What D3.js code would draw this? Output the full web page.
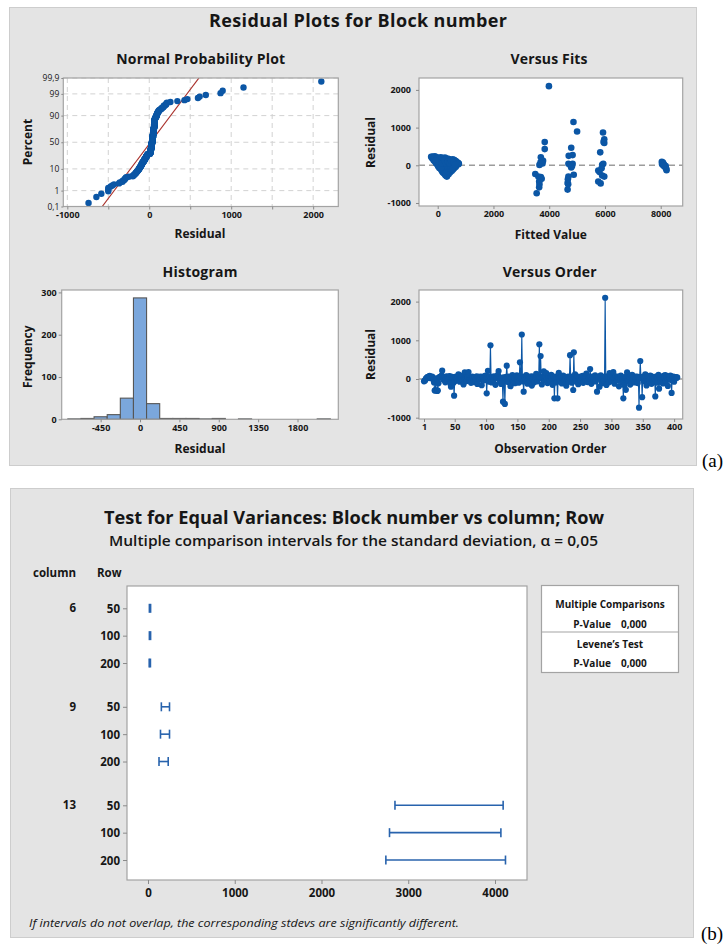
<!DOCTYPE html>
<html>
<head>
<meta charset="utf-8">
<script src="https://cdn.jsdelivr.net/npm/d3@7"></script>
<style>
  html, body { margin: 0; padding: 0; background: #ffffff; }
  svg { display: block; font-family: "Open Sans", "Noto Sans", sans-serif; }
</style>
</head>
<body>
<svg id="chart" width="728" height="946"></svg>
<script>
// ---------- Residuals for Block number, in observation order (1..405) ----------
const residuals = [
  -60,-45,-30,10,25,40,55,30,60,80,45,20,50,65,35,-20,-90,-300,-290,-40,
  15,-310,-300,-110,30,55,40,65,90,215,60,-20,35,50,-85,25,70,45,-50,10,
  60,72,-120,-200,30,55,20,-95,-430,-60,40,65,15,-30,50,120,35,-70,25,60,
  45,-15,85,-140,30,173,50,20,-55,65,40,180,55,-25,10,-100,35,60,45,-80,
  25,50,-45,15,70,-130,40,55,30,-10,65,20,-160,45,60,35,-35,50,90,25,
  -370,40,210,30,-70,55,870,20,-90,45,60,-20,35,70,-150,50,25,65,110,207,
  40,-60,15,-130,30,-100,-585,45,-40,-645,20,55,343,35,-80,60,10,50,-185,40,
  25,100,-55,65,30,-110,45,15,95,-30,50,-95,35,430,60,20,1150,40,-65,-327,
  55,30,-20,100,45,-120,65,25,50,-45,35,70,-170,15,60,40,-85,55,20,130,
  30,-60,45,65,896,50,594,25,-140,35,60,200,40,-35,55,150,20,-105,45,70,
  30,-50,60,110,15,-150,40,55,-500,25,65,-90,35,-500,50,160,20,-40,45,60,
  -115,30,90,40,-25,55,15,-175,50,35,65,-70,25,615,45,60,-95,30,-285,690,
  50,120,20,-60,40,65,-135,35,55,10,-45,60,25,80,-100,45,30,-20,50,140,
  40,-80,60,15,35,258,55,-125,20,65,45,-30,30,95,-65,50,-327,40,10,60,
  -200,25,95,35,-110,55,45,-40,20,2100,60,-155,30,65,40,-85,150,50,15,-55,
  35,60,180,25,-120,45,70,20,-30,55,40,-190,65,30,85,50,-78,15,-500,35,
  -160,45,-280,60,170,25,-50,55,40,-145,80,30,105,50,-20,45,-90,65,20,35,
  60,-105,40,-741,25,465,55,15,-470,45,65,-60,30,120,50,-165,20,70,40,-35,
  55,90,25,-125,60,35,45,-80,15,-450,65,50,-95,30,110,-250,40,60,-40,20,
  55,-115,45,90,30,100,-55,50,25,-180,65,40,15,85,-25,-360,55,35,60,-70,
  45,20,50,30,40
];

// ---------- Versus Fits: [fitted value, residual] ----------
const versusFits = [
  // low fitted values (column 6 and 9 groups)
  [-235,225],[-205,195],[-170,170],[-140,130],[-95,100],[-60,55],[-20,25],[25,-30],[60,-70],
  [105,-100],[150,-150],[185,-190],[230,-220],[270,-260],[330,-300],[300,-280],
  [-180,230],[-100,240],[-40,210],[30,200],[110,215],[180,190],[260,205],[310,180],[380,170],
  [450,150],[540,160],[600,140],[650,110],[700,80],[740,60],
  [760,40],[730,20],[700,50],[650,-40],[600,-70],[550,-110],[500,-150],[440,-190],[390,-240],
  [-150,190],[-110,170],[-60,150],[-20,120],[0,170],[30,90],[60,150],[70,40],[100,110],[110,0],
  [130,60],[140,160],[150,-60],[170,100],[190,20],[200,-120],[210,140],[230,60],[250,-40],
  [260,-160],[280,100],[290,10],[300,-90],[320,160],[330,-200],[350,50],[360,-20],[370,-130],
  [400,120],[410,-60],[420,10],[440,-150],[460,80],[480,-20],[500,40],[510,-110],[530,110],
  [550,-40],[570,20],[590,-40],[610,70],[630,-20],[660,30],[680,20],[720,40],
  [170,-20],[230,-100],[280,-200],[340,-150],[380,-80],[450,-100],[520,-100],[90,-20],[40,50],
  [-30,80],[-80,120],[10,-10],[120,-60],[160,40],[240,130],[300,40],[360,100],[420,60],
  [480,130],[560,60],[620,10],
  // column 13 groups
  [3550,-741],[3500,-230],[3610,-300],[3660,-327],[3700,-310],[3730,-360],[3640,-585],[3650,-500],
  [3640,-430],[3700,215],[3780,120],[3650,10],[3690,80],[3760,50],[3840,615],[3840,430],[3990,2100],
  [4660,-645],[4660,-470],[4680,-500],[4670,-370],[4690,-300],[4700,250],[4840,270],[4790,465],
  [4870,1150],[5000,896],[4690,40],[4780,15],[4840,40],[4790,-60],[4880,-250],[4760,0],[4820,-20],
  [5760,-430],[5845,-480],[5760,-140],[5805,-180],[5900,-270],[5975,-300],[5830,343],[5900,15],
  [5940,40],[5930,870],[5975,690],[5975,594],[5880,-80],[5950,620],
  [8040,90],[8060,60],[8080,70],[8050,30],[8100,40],[8120,10],[8150,-30],[8170,-60],[8200,-90],
  [8210,-130],[8180,-20],[8100,-10]
];

// ---------- Axis ticks ----------
const percentTicks   = [0.1, 1, 10, 50, 90, 99, 99.9];
const percentLabels  = ["0,1", "1", "10", "50", "90", "99", "99,9"];
const npResidTicks   = [-1000, -500, 0, 500, 1000, 1500, 2000];
const npResidLabels  = [-1000, 0, 1000, 2000];
const fitsTicks      = [0, 2000, 4000, 6000, 8000];
const residTicks     = [-1000, 0, 1000, 2000];
const histMidTicks   = [-450, 0, 450, 900, 1350, 1800];
const histEdges      = [-825,-675,-525,-375,-225,-75,75,225,375,525,675,825,975,1125,1275,1425,1575,1725,1875,2025,2175];
const freqTicks      = [0, 100, 200, 300];
const orderTicks     = [1, 50, 100, 150, 200, 250, 300, 350, 400];

// ---------- Test for equal variances ----------
const columnLevels = ["6", "9", "13"];
const rowLevels    = ["50", "100", "200"];
const sdLower = [[16, 16, 14], [154, 144, 127], [2847, 2784, 2742]];
const sdUpper = [[30, 30, 28], [248, 248, 233], [4094, 4068, 4121]];
const stdevTicks = [0, 1000, 2000, 3000, 4000];
const testRows = [
  ["Multiple Comparisons", ""],
  ["P-Value", "0,000"],
  ["Levene\u2019s Test", ""],
  ["P-Value", "0,000"]
];

// ---------- helpers ----------
const svg = d3.select("#chart");
const INK = "#161616";
const BLUE = "#0b56a5";
const signed = d => (d < 0 ? "-" : "") + Math.abs(d);

function txt(g, x, y, s, o = {}) {
  const t = g.append("text").attr("x", x).attr("y", y).text(s)
    .attr("font-size", o.size || 12)
    .attr("font-weight", o.weight || "bold")
    .attr("text-anchor", o.anchor || "middle")
    .attr("fill", o.fill || INK);
  if (o.italic) t.attr("font-style", "italic");
  if (o.family) t.attr("font-family", o.family);
  if (o.len) t.attr("textLength", o.len).attr("lengthAdjust", o.adjust || "spacing");
  if (o.rotate) t.attr("transform", `rotate(-90 ${x} ${y})`);
  return t;
}

function frame(b, id) {
  svg.append("rect").attr("x", b.x0).attr("y", b.y0)
    .attr("width", b.x1 - b.x0).attr("height", b.y1 - b.y0)
    .attr("fill", "#ffffff");
  svg.append("clipPath").attr("id", id).append("rect")
    .attr("x", b.x0).attr("y", b.y0).attr("width", b.x1 - b.x0).attr("height", b.y1 - b.y0);
}
function outline(b) {
  svg.append("rect").attr("x", b.x0).attr("y", b.y0)
    .attr("width", b.x1 - b.x0).attr("height", b.y1 - b.y0)
    .attr("fill", "none").attr("stroke", "#a3a3a3").attr("stroke-width", 1.2);
}
function styleAxis(g, size) {
  g.attr("font-family", null).attr("font-size", size).attr("font-weight", "bold");
  g.select(".domain").remove();
  g.selectAll(".tick line").attr("stroke", "#8a8a8a");
  g.selectAll(".tick text").attr("fill", INK);
}

// inverse standard normal CDF (probability scale)
function probit(p) {
  const a = [-3.969683028665376e+01, 2.209460984245205e+02, -2.759285104469687e+02, 1.383577518672690e+02, -3.066479806614716e+01, 2.506628277459239e+00];
  const b = [-5.447609879822406e+01, 1.615858368580409e+02, -1.556989798598866e+02, 6.680131188771972e+01, -1.328068155288572e+01];
  const c = [-7.784894002430293e-03, -3.223964580411365e-01, -2.400758277161838e+00, -2.549732539343734e+00, 4.374664141464968e+00, 2.938163982698783e+00];
  const d = [7.784695709041462e-03, 3.224671290700398e-01, 2.445134137142996e+00, 3.754408661907416e+00];
  const pl = 0.02425;
  let q, r;
  if (p < pl) {
    q = Math.sqrt(-2 * Math.log(p));
    return (((((c[0]*q+c[1])*q+c[2])*q+c[3])*q+c[4])*q+c[5]) / ((((d[0]*q+d[1])*q+d[2])*q+d[3])*q+1);
  }
  if (p <= 1 - pl) {
    q = p - 0.5; r = q * q;
    return (((((a[0]*r+a[1])*r+a[2])*r+a[3])*r+a[4])*r+a[5])*q / (((((b[0]*r+b[1])*r+b[2])*r+b[3])*r+b[4])*r+1);
  }
  q = Math.sqrt(-2 * Math.log(1 - p));
  return -(((((c[0]*q+c[1])*q+c[2])*q+c[3])*q+c[4])*q+c[5]) / ((((d[0]*q+d[1])*q+d[2])*q+d[3])*q+1);
}

// ================= (a) Residual plots =================
svg.append("rect").attr("x", 9.5).attr("y", 7.5).attr("width", 687).attr("height", 458)
  .attr("fill", "#e4e4e4").attr("stroke", "#cdcdcd");
txt(svg, 358, 27, "Residual Plots for Block number", { size: 18, len: 298 });

// ---- Normal Probability Plot ----
const np = { x0: 63.3, x1: 338.3, y0: 78, y1: 206.5 };
frame(np, "clipNP");
const npX = d3.scaleLinear().domain([-1049, 2307]).range([np.x0, np.x1]);
const npY = d3.scaleLinear().domain([probit(0.001), probit(0.999)]).range([np.y1, np.y0]);
const npGrid = svg.append("g").attr("stroke", "#d2d2d2").attr("stroke-dasharray", "5,4").attr("stroke-width", 1);
npGrid.selectAll(".v").data(npResidTicks).join("line")
  .attr("x1", d => npX(d)).attr("x2", d => npX(d)).attr("y1", np.y0).attr("y2", np.y1);
npGrid.selectAll(".h").data(percentTicks).join("line")
  .attr("x1", np.x0).attr("x2", np.x1).attr("y1", d => npY(probit(d / 100))).attr("y2", d => npY(probit(d / 100)));

const sorted = residuals.slice().sort(d3.ascending);
const nRes = sorted.length;
const npPts = sorted.map((r, i) => ({ r, z: probit((i + 1 - 0.3) / (nRes + 0.4)) }));
const mu = d3.mean(residuals), sigma = d3.deviation(residuals);
const zLo = npY.domain()[0], zHi = npY.domain()[1];
const npClip = svg.append("g").attr("clip-path", "url(#clipNP)");
npClip.append("line")
  .attr("x1", npX(mu + sigma * zLo)).attr("y1", npY(zLo))
  .attr("x2", npX(mu + sigma * zHi)).attr("y2", npY(zHi))
  .attr("stroke", "#a9302b").attr("stroke-width", 1.2);
npClip.selectAll("circle").data(npPts).join("circle")
  .attr("cx", d => npX(d.r)).attr("cy", d => npY(d.z)).attr("r", 3.2).attr("fill", BLUE);
outline(np);

const npXAxis = svg.append("g").attr("transform", `translate(0,${np.y1})`)
  .call(d3.axisBottom(npX).tickValues(npResidTicks).tickSize(3).tickPadding(2)
    .tickFormat(d => npResidLabels.includes(d) ? signed(d) : ""));
styleAxis(npXAxis, 9);
const npYAxis = svg.append("g").attr("transform", `translate(${np.x0},0)`)
  .call(d3.axisLeft(npY).tickValues(percentTicks.map(p => probit(p / 100))).tickSize(2).tickPadding(2)
    .tickFormat((d, i) => percentLabels[i]));
styleAxis(npYAxis, 8.5);
npYAxis.attr("font-weight", "normal");
txt(svg, 200.7, 63.5, "Normal Probability Plot", { size: 14, len: 169 });
txt(svg, 200, 238, "Residual", { size: 12 });
txt(svg, 31.6, 142, "Percent", { size: 12, rotate: true });

// ---- Versus Fits ----
const vf = { x0: 419, x1: 682.7, y0: 78, y1: 206 };
frame(vf, "clipVF");
const vfX = d3.scaleLinear().domain([-671, 8789]).range([vf.x0, vf.x1]);
const vfY = d3.scaleLinear().domain([-1080, 2316]).range([vf.y1, vf.y0]);
svg.append("line").attr("x1", vf.x0).attr("x2", vf.x1).attr("y1", vfY(0)).attr("y2", vfY(0))
  .attr("stroke", "#9c9c9c").attr("stroke-width", 1.5).attr("stroke-dasharray", "6,4");
svg.append("g").attr("clip-path", "url(#clipVF)").selectAll("circle").data(versusFits).join("circle")
  .attr("cx", d => vfX(d[0])).attr("cy", d => vfY(d[1])).attr("r", 3.3).attr("fill", BLUE);
outline(vf);
const vfXAxis = svg.append("g").attr("transform", `translate(0,${vf.y1})`)
  .call(d3.axisBottom(vfX).tickValues(fitsTicks).tickSize(3).tickPadding(2).tickFormat(signed));
styleAxis(vfXAxis, 9);
const vfYAxis = svg.append("g").attr("transform", `translate(${vf.x0},0)`)
  .call(d3.axisLeft(vfY).tickValues(residTicks).tickSize(3).tickPadding(5).tickFormat(signed));
styleAxis(vfYAxis, 9);
txt(svg, 549, 63.5, "Versus Fits", { size: 14, len: 77 });
txt(svg, 550.8, 238.5, "Fitted Value", { size: 12 });
txt(svg, 375.3, 142.5, "Residual", { size: 12, rotate: true });

// ---- Histogram ----
const hi = { x0: 61.7, x1: 338.3, y0: 290, y1: 419.3 };
frame(hi, "clipHI");
const hiX = d3.scaleLinear().domain([-895, 2266]).range([hi.x0, hi.x1]);
const hiY = d3.scaleLinear().domain([0, 305.7]).range([hi.y1, hi.y0]);
const bins = d3.bin().domain([histEdges[0], histEdges[histEdges.length - 1]])
  .thresholds(histEdges.slice(1, -1))(residuals);
svg.append("g").selectAll("rect").data(bins).join("rect")
  .attr("x", d => hiX(d.x0)).attr("width", d => hiX(d.x1) - hiX(d.x0))
  .attr("y", d => hiY(d.length)).attr("height", d => hiY(0) - hiY(d.length))
  .attr("fill", "#7ba7dc").attr("stroke", "#565656").attr("stroke-width", 1.1);
outline(hi);
const hiXAxis = svg.append("g").attr("transform", `translate(0,${hi.y1})`)
  .call(d3.axisBottom(hiX).tickValues(histMidTicks).tickSize(3).tickPadding(2).tickFormat(signed));
styleAxis(hiXAxis, 9);
const hiYAxis = svg.append("g").attr("transform", `translate(${hi.x0},0)`)
  .call(d3.axisLeft(hiY).tickValues(freqTicks).tickSize(3).tickPadding(2));
styleAxis(hiYAxis, 9);
txt(svg, 200, 276.5, "Histogram", { size: 14, len: 75 });
txt(svg, 200, 453, "Residual", { size: 12 });
txt(svg, 31.6, 356.7, "Frequency", { size: 12, rotate: true });

// ---- Versus Order ----
const vo = { x0: 419, x1: 682.7, y0: 290, y1: 419 };
frame(vo, "clipVO");
const voX = d3.scaleLinear().domain([-7, 413.7]).range([vo.x0, vo.x1]);
const voY = d3.scaleLinear().domain([-1034, 2300]).range([vo.y1, vo.y0]);
svg.append("line").attr("x1", vo.x0).attr("x2", vo.x1).attr("y1", voY(0)).attr("y2", voY(0))
  .attr("stroke", "#9c9c9c").attr("stroke-width", 1.5).attr("stroke-dasharray", "6,4");
const voG = svg.append("g").attr("clip-path", "url(#clipVO)");
voG.append("path").datum(residuals)
  .attr("d", d3.line().x((d, i) => voX(i + 1)).y(d => voY(d)))
  .attr("fill", "none").attr("stroke", BLUE).attr("stroke-width", 1.1);
voG.selectAll("circle").data(residuals).join("circle")
  .attr("cx", (d, i) => voX(i + 1)).attr("cy", d => voY(d)).attr("r", 3.1).attr("fill", BLUE);
outline(vo);
const voXAxis = svg.append("g").attr("transform", `translate(0,${vo.y1})`)
  .call(d3.axisBottom(voX).tickValues(orderTicks).tickSize(3).tickPadding(2).tickFormat(d3.format("d")));
styleAxis(voXAxis, 9);
const voYAxis = svg.append("g").attr("transform", `translate(${vo.x0},0)`)
  .call(d3.axisLeft(voY).tickValues(residTicks).tickSize(3).tickPadding(5).tickFormat(signed));
styleAxis(voYAxis, 9);
txt(svg, 549.7, 276.5, "Versus Order", { size: 14, len: 94 });
txt(svg, 550.3, 453, "Observation Order", { size: 12 });
txt(svg, 375.3, 354.5, "Residual", { size: 12, rotate: true });

txt(svg, 702, 467, "(a)", { size: 19, weight: "normal", anchor: "start", family: "'Liberation Serif', 'Times New Roman', serif", fill: "#000" });

// ================= (b) Test for Equal Variances =================
svg.append("rect").attr("x", 10.5).attr("y", 488.5).attr("width", 683).attr("height", 449)
  .attr("fill", "#e4e4e4").attr("stroke", "#cdcdcd");
txt(svg, 354, 524, "Test for Equal Variances: Block number vs column; Row", { size: 17, len: 500, adjust: "spacingAndGlyphs" });
txt(svg, 353.5, 546, "Multiple comparison intervals for the standard deviation, \u03b1 =  0,05", { size: 13.5, weight: 600, len: 489, adjust: "spacingAndGlyphs" });

const ev = { x0: 127, x1: 527, y0: 586, y1: 880 };
frame(ev, "clipEV");
outline(ev);
const evX = d3.scaleLinear().domain([-242, 4369]).range([ev.x0, ev.x1]);
// each column group holds three rows; groups are separated by a wider gap
const groupStep = 3.6;
const evY = d3.scaleLinear().domain([-0.815, 9.93]).range([ev.y0, ev.y1]);
const intervals = [];
columnLevels.forEach((c, gi) => rowLevels.forEach((r, ri) => {
  intervals.push({ col: c, row: r, first: ri === 0, slot: gi * groupStep + ri, lo: sdLower[gi][ri], hi: sdUpper[gi][ri] });
}));

const evYAxis = svg.append("g").attr("transform", `translate(${ev.x0},0)`)
  .call(d3.axisLeft(evY).tickValues(intervals.map(d => d.slot)).tickSize(4).tickPadding(3)
    .tickFormat((d, i) => intervals[i].row));
styleAxis(evYAxis, 11.5);
evYAxis.selectAll(".tick text").attr("dy", "0.36em");
svg.append("g").selectAll("text").data(intervals.filter(d => d.first)).join("text")
  .attr("x", 76).attr("y", d => evY(d.slot)).attr("dy", "0.36em")
  .attr("text-anchor", "end").attr("font-size", 11.5).attr("font-weight", "bold").attr("fill", INK)
  .text(d => d.col);
txt(svg, 76, 577, "column", { size: 11.5, anchor: "end" });
txt(svg, 121.5, 577, "Row", { size: 11.5, anchor: "end" });

const evG = svg.append("g").attr("clip-path", "url(#clipEV)")
  .attr("stroke", "#2863ad").attr("stroke-width", 1.6).attr("fill", "none");
intervals.forEach(d => {
  const y = evY(d.slot);
  evG.append("line").attr("x1", evX(d.lo)).attr("x2", evX(d.hi)).attr("y1", y).attr("y2", y);
  evG.append("line").attr("x1", evX(d.lo)).attr("x2", evX(d.lo)).attr("y1", y - 4.5).attr("y2", y + 4.5);
  evG.append("line").attr("x1", evX(d.hi)).attr("x2", evX(d.hi)).attr("y1", y - 4.5).attr("y2", y + 4.5);
});

const evXAxis = svg.append("g").attr("transform", `translate(0,${ev.y1})`)
  .call(d3.axisBottom(evX).tickValues(stdevTicks).tickSize(4).tickPadding(5).tickFormat(d3.format("d")));
styleAxis(evXAxis, 11.5);

// test summary box
const tb = { x0: 541.5, x1: 678.5, y0: 585.5, y1: 672.5 };
svg.append("rect").attr("x", tb.x0).attr("y", tb.y0).attr("width", tb.x1 - tb.x0).attr("height", tb.y1 - tb.y0)
  .attr("fill", "#ffffff").attr("stroke", "#a3a3a3").attr("stroke-width", 1.2);
svg.append("line").attr("x1", tb.x0).attr("x2", tb.x1).attr("y1", 632).attr("y2", 632)
  .attr("stroke", "#a3a3a3").attr("stroke-width", 1.2);
const tbBase = [608, 628, 647.5, 667];
testRows.forEach((r, i) => {
  const s = r[1] ? r[0] + "\u2003" + r[1] : r[0];
  txt(svg, 610, tbBase[i], s, { size: 10 });
});

txt(svg, 29, 927, "If intervals do not overlap, the corresponding stdevs are significantly different.",
  { size: 11, weight: "normal", italic: true, anchor: "start", len: 430, adjust: "spacingAndGlyphs" });

txt(svg, 701, 940, "(b)", { size: 19, weight: "normal", anchor: "start", family: "'Liberation Serif', 'Times New Roman', serif", fill: "#000" });
</script>
</body>
</html>
